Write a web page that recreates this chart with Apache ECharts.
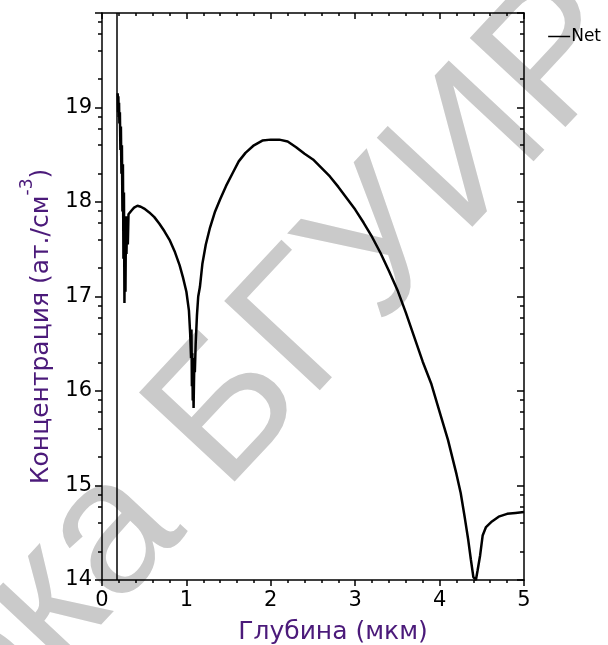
<!DOCTYPE html>
<html>
<head>
<meta charset="utf-8">
<script src="https://cdn.jsdelivr.net/npm/echarts@6/dist/echarts.min.js"></script>
<style>
  html, body { margin: 0; padding: 0; background: #fff; }
  #chart { width: 608px; height: 645px; }
</style>
</head>
<body>
<div id="chart"></div>
<script>
  // глубина (мкм) и lg концентрации
  var depth = [
    0.186, 0.190, 0.194, 0.198, 0.202, 0.206, 0.212, 0.218, 0.224, 0.230,
    0.236, 0.242, 0.248, 0.254, 0.260, 0.266, 0.272, 0.278, 0.284, 0.290,
    0.298, 0.306, 0.314, 0.330, 0.350, 0.380, 0.420, 0.460, 0.500, 0.560,
    0.620, 0.680, 0.740, 0.800, 0.860, 0.920, 0.960, 1.000, 1.030, 1.045,
    1.055, 1.060, 1.065, 1.070, 1.075, 1.080, 1.085, 1.090, 1.095, 1.100,
    1.110, 1.125, 1.140, 1.160, 1.190, 1.230, 1.280, 1.340, 1.400, 1.470,
    1.550, 1.620, 1.700, 1.800, 1.900, 2.000, 2.100, 2.200, 2.300, 2.400,
    2.500, 2.600, 2.700, 2.800, 2.900, 3.000, 3.100, 3.200, 3.300, 3.400,
    3.500, 3.600, 3.700, 3.800, 3.900, 4.000, 4.100, 4.200, 4.250, 4.300,
    4.340, 4.370, 4.400, 4.430, 4.450, 4.480, 4.510, 4.550, 4.620, 4.700,
    4.800, 4.900, 5.000
  ];
  var netConc = [
    19.15, 18.95, 19.12, 18.90, 19.05, 18.83, 18.95, 18.55, 18.80, 18.30,
    18.60, 17.90, 18.40, 17.40, 18.10, 16.93, 17.85, 17.05, 17.80, 17.45,
    17.85, 17.55, 17.87, 17.88, 17.91, 17.94, 17.96, 17.95, 17.93, 17.89,
    17.84, 17.77, 17.69, 17.60, 17.48, 17.33, 17.20, 17.05, 16.85, 16.60,
    16.35, 16.65, 16.05, 16.40, 15.90, 16.25, 15.82, 16.10, 16.35, 16.20,
    16.50, 16.80, 17.00, 17.10, 17.35, 17.55, 17.73, 17.90, 18.03, 18.17,
    18.31, 18.43, 18.52, 18.60, 18.65, 18.66, 18.66, 18.64, 18.58, 18.51,
    18.45, 18.36, 18.27, 18.16, 18.04, 17.92, 17.78, 17.63, 17.46, 17.27,
    17.07, 16.83, 16.57, 16.31, 16.08, 15.78, 15.48, 15.12, 14.92, 14.65,
    14.42, 14.22, 14.03, 14.00, 14.10, 14.26, 14.47, 14.56, 14.62, 14.67,
    14.70, 14.71, 14.72
  ];
  var junctionDepth = 0.18;

  var yTickLabels = ['14', '15', '16', '17', '18', '19', ''];
  var decades = [14, 15, 16, 17, 18, 19];
  var minorMult = [2, 4, 6, 8];

  var minorTicks = [];
  decades.forEach(function (d) {
    minorMult.forEach(function (m) { minorTicks.push(d + Math.log10(m)); });
  });

  var fontFam = 'DejaVu Sans';
  var titleColor = '#4b1a7a';

  var myChart = echarts.init(document.getElementById('chart'));

  var xCommon = {
    type: 'value', min: 0, max: 5, interval: 1,
    splitLine: { show: false },
    axisLine: { show: true, lineStyle: { color: '#000', width: 1.5 } },
    minorTick: { show: true, splitNumber: 5, length: 3, lineStyle: { color: '#000', width: 1.5 } },
    minorSplitLine: { show: false }
  };
  var yCommon = {
    type: 'value', min: 14, max: 20, interval: 1,
    splitLine: { show: false },
    axisLine: { show: true, lineStyle: { color: '#000', width: 1.5 } }
  };

  var option = {
    animation: false,
    grid: { left: 102, right: 84, top: 13, bottom: 65, outerBoundsMode: 'none' },
    legend: {
      right: 2, top: 23,
      icon: 'rect',
      itemWidth: 22, itemHeight: 1.5, itemGap: 2,
      textStyle: { fontFamily: fontFam, fontSize: 17, color: '#000', padding: [0, 0, 0, -4] },
      data: ['Net']
    },
    graphic: [{
      type: 'text',
      z: 0,
      x: 603, y: 10,
      rotation: 0.82,
      silent: true,
      style: {
        text: 'Библиотека БГУИР',
        fontFamily: 'Liberation Sans',
        fontSize: 190,
        fill: '#cacaca',
        align: 'right',
        verticalAlign: 'middle'
      }
    }],
    xAxis: [
      Object.assign({}, xCommon, {
        position: 'bottom',
        name: 'Глубина (мкм)',
        nameLocation: 'middle',
        nameGap: 40,
        nameTextStyle: { fontFamily: fontFam, fontSize: 25, color: titleColor, padding: [0, 0, 0, 40] },
        axisTick: { show: true, length: 6, lineStyle: { color: '#000', width: 1.5 } },
        axisLabel: { fontFamily: fontFam, fontSize: 21, color: '#000', margin: 10 }
      }),
      Object.assign({}, xCommon, {
        position: 'top',
        axisTick: { show: true, inside: true, length: 6, lineStyle: { color: '#000', width: 1.5 } },
        axisLabel: { show: false }
      })
    ],
    yAxis: [
      Object.assign({}, yCommon, {
        position: 'left',
        name: '{n|Концентрация (ат./см}{s|-3}{n|)}',
        nameLocation: 'middle',
        nameGap: 48,
        nameRotate: 90,
        nameTextStyle: {
          fontFamily: fontFam, color: titleColor,
          padding: [0, 60, 0, 0],
          rich: {
            n: { fontFamily: fontFam, fontSize: 25, color: titleColor, lineHeight: 28, verticalAlign: 'bottom' },
            s: { fontFamily: fontFam, fontSize: 17, color: titleColor, lineHeight: 17, padding: [0, 0, 18, 0], verticalAlign: 'bottom' }
          }
        },
        axisTick: { show: true, length: 7, lineStyle: { color: '#000', width: 1.5 } },
        axisLabel: {
          fontFamily: fontFam, fontSize: 21, color: '#000', margin: 10,
          formatter: function (v) { return yTickLabels[Math.round(v - 14)]; }
        }
      }),
      Object.assign({}, yCommon, {
        position: 'left',
        axisLine: { show: false },
        axisTick: { show: true, length: 4, customValues: minorTicks, lineStyle: { color: '#000', width: 1.5 } },
        axisLabel: { show: false }
      }),
      Object.assign({}, yCommon, {
        position: 'right',
        axisTick: { show: true, inside: true, length: 7, lineStyle: { color: '#000', width: 1.5 } },
        axisLabel: { show: false }
      }),
      Object.assign({}, yCommon, {
        position: 'right',
        axisLine: { show: false },
        axisTick: { show: true, inside: true, length: 4, customValues: minorTicks, lineStyle: { color: '#000', width: 1.5 } },
        axisLabel: { show: false }
      })
    ],
    series: [{
      name: 'Net',
      type: 'line',
      xAxisIndex: 0,
      yAxisIndex: 0,
      z: 5,
      symbol: 'none',
      lineStyle: { color: '#000', width: 2.5 },
      itemStyle: { color: '#000' },
      data: depth.map(function (d, i) { return [d, netConc[i]]; }),
      markLine: {
        silent: true,
        symbol: 'none',
        label: { show: false },
        lineStyle: { color: '#000', width: 1.5, type: 'solid' },
        data: [{ xAxis: junctionDepth }]
      }
    }]
  };

  myChart.setOption(option);
</script>
</body>
</html>
